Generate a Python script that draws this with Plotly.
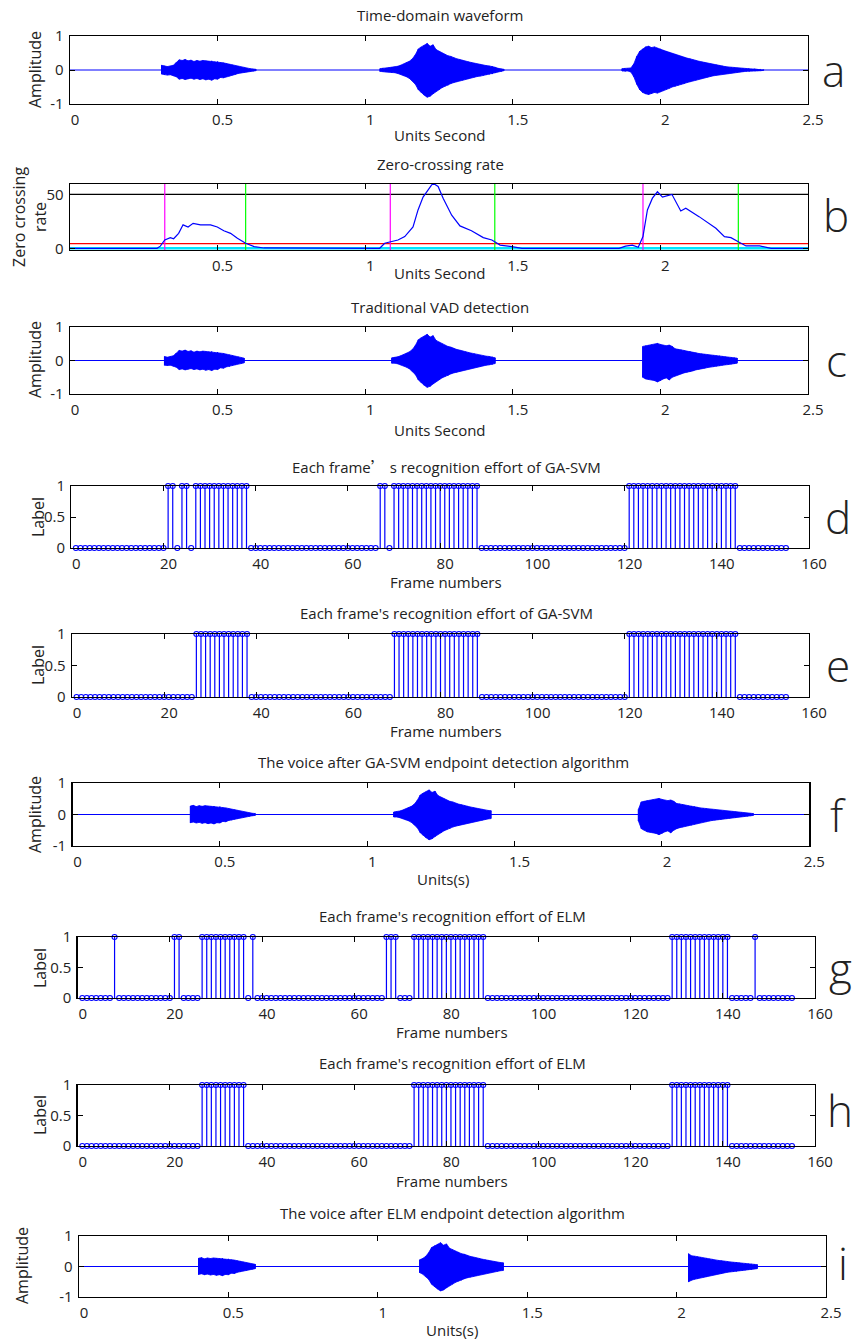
import plotly.graph_objects as go

W, H = 855, 1341
FW, FH = W, H
BLUE = "#0000ff"
FONT = "Open Sans"

# ---------------- data ----------------
# waveform envelope (upper / lower peaks), one value every 0.01 s
env1_start = 0.31
env1_up = [0.14, 0.12, 0.10, 0.12, 0.14, 0.22, 0.30, 0.28, 0.31, 0.27, 0.29, 0.25, 0.28, 0.26, 0.28, 0.27,
           0.26, 0.27, 0.24, 0.25, 0.22, 0.21, 0.19, 0.17, 0.15, 0.12, 0.11, 0.08, 0.07, 0.05, 0.04, 0.03, 0.02]
env1_lo = [-0.12, -0.14, -0.15, -0.14, -0.17, -0.20, -0.27, -0.25, -0.28, -0.26, -0.24, -0.27, -0.25, -0.28, -0.26, -0.29,
           -0.27, -0.30, -0.26, -0.27, -0.22, -0.23, -0.19, -0.18, -0.15, -0.13, -0.10, -0.09, -0.07, -0.06, -0.04, -0.03, -0.02]

env2_start = 1.05
env2_up = [0.04, 0.06, 0.06, 0.07, 0.08, 0.09, 0.11, 0.14, 0.17, 0.22, 0.26, 0.33, 0.45, 0.62, 0.68, 0.72,
           0.78, 0.70, 0.74, 0.60, 0.55, 0.50, 0.46, 0.42, 0.40, 0.36, 0.33, 0.31, 0.28, 0.26, 0.24, 0.22,
           0.20, 0.17, 0.16, 0.14, 0.13, 0.12, 0.11, 0.08, 0.05, 0.03, 0.02]
env2_lo = [-0.04, -0.05, -0.06, -0.06, -0.08, -0.08, -0.10, -0.12, -0.16, -0.20, -0.25, -0.32, -0.42, -0.58, -0.66, -0.74,
           -0.80, -0.77, -0.70, -0.62, -0.58, -0.52, -0.48, -0.45, -0.40, -0.37, -0.35, -0.32, -0.30, -0.27, -0.25, -0.23,
           -0.21, -0.19, -0.18, -0.16, -0.14, -0.13, -0.12, -0.09, -0.06, -0.04, -0.02]

# third word as recorded (panel a)
env3_start = 1.87
env3_up = [0.04, 0.05, 0.04, 0.06, 0.18, 0.40, 0.55, 0.62, 0.68, 0.70, 0.66, 0.68, 0.64, 0.62, 0.58, 0.55,
           0.52, 0.48, 0.46, 0.42, 0.40, 0.38, 0.35, 0.33, 0.30, 0.28, 0.26, 0.24, 0.22, 0.20, 0.18, 0.16,
           0.15, 0.13, 0.12, 0.10, 0.09, 0.08, 0.07, 0.06, 0.05, 0.05, 0.04, 0.04, 0.03, 0.03, 0.02, 0.02, 0.01]
env3_lo = [-0.03, -0.04, -0.03, -0.06, -0.20, -0.42, -0.58, -0.66, -0.70, -0.72, -0.70, -0.66, -0.68, -0.64, -0.60, -0.57,
           -0.54, -0.50, -0.48, -0.45, -0.42, -0.40, -0.37, -0.35, -0.32, -0.30, -0.27, -0.25, -0.23, -0.21, -0.19, -0.17,
           -0.15, -0.14, -0.12, -0.11, -0.10, -0.09, -0.08, -0.07, -0.06, -0.05, -0.04, -0.04, -0.03, -0.03, -0.02, -0.02, -0.01]

# third word as it appears in the detected outputs (panels c, f, i)
env3p_start = 1.91
env3p_up = [0.10, 0.16, 0.40, 0.42, 0.44, 0.45, 0.47, 0.48, 0.51, 0.48, 0.45, 0.44, 0.46, 0.42, 0.35, 0.34,
            0.32, 0.30, 0.28, 0.27, 0.25, 0.23, 0.21, 0.20, 0.19, 0.17, 0.16, 0.15, 0.14, 0.14, 0.12, 0.11,
            0.10, 0.09, 0.085, 0.07, 0.06, 0.05, 0.04, 0.03, 0.03, 0.02]
env3p_lo = [-0.12, -0.20, -0.45, -0.50, -0.55, -0.56, -0.58, -0.60, -0.64, -0.60, -0.55, -0.52, -0.58, -0.50, -0.45, -0.42,
            -0.40, -0.37, -0.35, -0.34, -0.31, -0.28, -0.26, -0.24, -0.23, -0.21, -0.19, -0.18, -0.17, -0.16, -0.14, -0.13,
            -0.12, -0.11, -0.10, -0.08, -0.07, -0.06, -0.05, -0.04, -0.03, -0.02]

# zero-crossing rate curve (panel b)
zcr_t = [0, 0.295, 0.306, 0.321, 0.34, 0.351, 0.368, 0.383, 0.40, 0.417, 0.442, 0.476, 0.499, 0.521, 0.544, 0.567,
         0.595, 0.624, 0.657, 1.049, 1.066, 1.085, 1.111, 1.134, 1.162, 1.179, 1.196, 1.224, 1.23, 1.247, 1.264,
         1.293, 1.321, 1.36, 1.40, 1.429, 1.457, 1.497, 1.531, 1.86, 1.882, 1.905, 1.925, 1.941, 1.956, 1.973, 1.99,
         2.007, 2.039, 2.069, 2.086, 2.131, 2.188, 2.217, 2.239, 2.267, 2.29, 2.336, 2.375, 2.5]
zcr_v = [0, 0, 2, 7.8, 10, 9, 14, 22, 20, 23.4, 22, 22, 20, 16.5, 14, 9.4,
         4.7, 1.6, 0.3, 0, 4.7, 6, 7.8, 11, 20, 36, 48, 59, 61, 58, 47,
         31, 21, 16.5, 10, 7.8, 3, 1.6, 0, 0, 2, 3, 1, 11, 36, 47, 53,
         48, 50.6, 35, 37.5, 29.7, 18.8, 11, 10, 5.6, 2.2, 2.2, 0, 0]
zcr_start_marks = [0.321, 1.085, 1.941]   # magenta
zcr_end_marks = [0.595, 1.439, 2.264]     # green
zcr_high_thr = 50.5
zcr_low_thr = 4.4
zcr_base = 0

# detected speech segments (seconds)
vad_segments = [(0.32, 0.595), (1.085, 1.44), (1.94, 2.265)]
gasvm_segments = [(0.396, 0.624), (1.082, 1.429), (1.918, 2.319)]
elm_segments = [(0.393, 0.593), (1.134, 1.425), (2.032, 2.273)]

# frame labels (frames labelled 1 = speech)
n_frames = 155
gasvm_raw_ones = [21, 22, 24, 25, 27, 28, 29, 30, 31, 32, 33, 34, 35, 36, 37, 38,
                  67, 68, 70, 71, 72, 73, 74, 75, 76, 77, 78, 79, 80, 81, 82, 83, 84, 85, 86, 87, 88,
                  121, 122, 123, 124, 125, 126, 127, 128, 129, 130, 131, 132, 133, 134, 135, 136, 137,
                  138, 139, 140, 141, 142, 143, 144]
gasvm_ones = [27, 28, 29, 30, 31, 32, 33, 34, 35, 36, 37, 38,
              70, 71, 72, 73, 74, 75, 76, 77, 78, 79, 80, 81, 82, 83, 84, 85, 86, 87, 88,
              121, 122, 123, 124, 125, 126, 127, 128, 129, 130, 131, 132, 133, 134, 135, 136, 137,
              138, 139, 140, 141, 142, 143, 144]
elm_raw_ones = [8, 21, 22, 27, 28, 29, 30, 31, 32, 33, 34, 35, 36, 38,
                67, 68, 69, 73, 74, 75, 76, 77, 78, 79, 80, 81, 82, 83, 84, 85, 86, 87, 88,
                129, 130, 131, 132, 133, 134, 135, 136, 137, 138, 139, 140, 141, 147]
elm_ones = [27, 28, 29, 30, 31, 32, 33, 34, 35, 36,
            73, 74, 75, 76, 77, 78, 79, 80, 81, 82, 83, 84, 85, 86, 87, 88,
            129, 130, 131, 132, 133, 134, 135, 136, 137, 138, 139, 140, 141]

# ---------------- helpers ----------------
STEP = 0.01
RAW = ((env1_start, env1_up, env1_lo), (env2_start, env2_up, env2_lo), (env3_start, env3_up, env3_lo))
DET = ((env1_start, env1_up, env1_lo), (env2_start, env2_up, env2_lo), (env3p_start, env3p_up, env3p_lo))


def runs(bursts, segments):
    out = []
    for start, up, lo in bursts:
        cur = []
        for k in range(len(up)):
            t = round(start + k * STEP, 4)
            keep = segments is None or any(a <= t <= b for a, b in segments)
            if keep:
                cur.append((t, up[k], lo[k]))
            elif cur:
                out.append(cur); cur = []
        if cur:
            out.append(cur)
    return out


def wave_traces(bursts, segments, xa, ya):
    tr = [go.Scatter(x=[0, 2.5], y=[0, 0], mode="lines", line=dict(color=BLUE, width=1),
                     xaxis=xa, yaxis=ya, showlegend=False, hoverinfo="skip")]
    px, py, zx, zy = [], [], [], []
    for run in runs(bursts, segments):
        ts = [r[0] for r in run]
        ups = [r[1] for r in run]
        los = [r[2] for r in run]
        px += ts + ts[::-1] + [ts[0], None]
        py += ups + los[::-1] + [ups[0], None]
        for t, u, l in run:
            zx += [t, t]
            zy += [u, l]
        zx.append(None); zy.append(None)
    tr.append(go.Scatter(x=px, y=py, mode="lines", fill="toself", fillcolor=BLUE,
                         line=dict(color=BLUE, width=0.8), xaxis=xa, yaxis=ya,
                         showlegend=False, hoverinfo="skip"))
    tr.append(go.Scatter(x=zx, y=zy, mode="lines", line=dict(color=BLUE, width=1),
                         xaxis=xa, yaxis=ya, showlegend=False, hoverinfo="skip"))
    return tr


def stems(ones):
    frames = list(range(1, n_frames + 1))
    vals = [1 if f in ones else 0 for f in frames]
    lx, ly = [], []
    for f, v in zip(frames, vals):
        if v:
            lx += [f, f, None]
            ly += [0, 1, None]
    return frames, vals, lx, ly


def PX(x):
    return x / FW


def PY(y):
    return 1 - y / FH


# panel boxes in window pixels: x0, x1, ytop, ybottom
boxes = {
    1: (70, 808, 36, 104),
    2: (70, 808, 184, 250),
    3: (70, 808, 327, 394),
    4: (71.3, 809, 486, 548),
    5: (72, 809, 634, 697),
    6: (72.5, 809.3, 783, 846),
    7: (77.7, 815, 937, 998),
    8: (77.7, 815, 1085, 1146),
    9: (79, 826, 1236, 1297),
}

fig = go.Figure()


def ax(i):
    return ("x" if i == 1 else f"x{i}"), ("y" if i == 1 else f"y{i}")


for i, bursts, seg in ((1, RAW, None), (3, DET, vad_segments), (6, DET, gasvm_segments), (9, DET, elm_segments)):
    xa, ya = ax(i)
    for tr in wave_traces(bursts, seg, xa, ya):
        fig.add_trace(tr)

xa, ya = ax(2)
fig.add_trace(go.Scatter(x=[0, 2.5], y=[zcr_base, zcr_base], mode="lines", line=dict(color="#00e5ff", width=2.5),
                         xaxis=xa, yaxis=ya, showlegend=False))
fig.add_trace(go.Scatter(x=[0, 2.5], y=[zcr_low_thr, zcr_low_thr], mode="lines", line=dict(color="#ff0000", width=1.2),
                         xaxis=xa, yaxis=ya, showlegend=False))
fig.add_trace(go.Scatter(x=[0, 2.5], y=[zcr_high_thr, zcr_high_thr], mode="lines", line=dict(color="#000000", width=1.2),
                         xaxis=xa, yaxis=ya, showlegend=False))
mx, my = [], []
for t in zcr_start_marks:
    mx += [t, t, None]; my += [-5, 70, None]
fig.add_trace(go.Scatter(x=mx, y=my, mode="lines", line=dict(color="#ff00ff", width=1.2),
                         xaxis=xa, yaxis=ya, showlegend=False))
gx, gy = [], []
for t in zcr_end_marks:
    gx += [t, t, None]; gy += [-5, 70, None]
fig.add_trace(go.Scatter(x=gx, y=gy, mode="lines", line=dict(color="#00ff00", width=1.2),
                         xaxis=xa, yaxis=ya, showlegend=False))
fig.add_trace(go.Scatter(x=zcr_t, y=zcr_v, mode="lines", line=dict(color=BLUE, width=1.2),
                         xaxis=xa, yaxis=ya, showlegend=False))

for i, ones in ((4, gasvm_raw_ones), (5, gasvm_ones), (7, elm_raw_ones), (8, elm_ones)):
    frames, vals, lx, ly = stems(ones)
    xa, ya = ax(i)
    fig.add_trace(go.Scatter(x=lx, y=ly, mode="lines", line=dict(color=BLUE, width=1.2),
                             xaxis=xa, yaxis=ya, showlegend=False))
    fig.add_trace(go.Scatter(x=frames, y=vals, mode="markers", cliponaxis=False,
                             marker=dict(symbol="circle-open", size=5, color=BLUE, line=dict(width=1.1)),
                             xaxis=xa, yaxis=ya, showlegend=False))

common = dict(showline=True, linecolor="black", linewidth=1.3, mirror="ticks", ticks="inside",
              ticklen=5, tickcolor="black", tickwidth=1, showgrid=False, zeroline=False,
              automargin=False, tickfont=dict(family=FONT, size=15, color="#222"))

layout = dict(width=FW, height=FH, margin=dict(l=0, r=0, t=0, b=0, pad=0, autoexpand=False),
              paper_bgcolor="white", plot_bgcolor="white", showlegend=False, template="none")

for i, (x0, x1, yt, yb) in boxes.items():
    xname = "xaxis" if i == 1 else f"xaxis{i}"
    yname = "yaxis" if i == 1 else f"yaxis{i}"
    xa, ya = ax(i)
    xd = [PX(x0), PX(x1)]
    yd = [PY(yb), PY(yt)]
    if i in (1, 3, 6, 9):
        xr, xt, xtt = [0, 2.5], [0, 0.5, 1, 1.5, 2, 2.5], ["0", "0.5", "1", "1.5", "2", "2.5"]
        yr, yt_, ytt = [-1, 1], [-1, 0, 1], ["-1", "0", "1"]
    elif i == 2:
        xr, xt, xtt = [0, 2.5], [0.5, 1, 1.5, 2], ["0.5", "1", "1.5", "2"]
        yr, yt_, ytt = [-1.6, 60.3], [0, 50], ["0", "50"]
    else:
        xr, xt, xtt = [0, 160], [0, 20, 40, 60, 80, 100, 120, 140, 160], \
            ["0", "20", "40", "60", "80", "100", "120", "140", "160"]
        yr, yt_, ytt = [0, 1], [0, 0.5, 1], ["0", "0.5", "1"]
    layout[xname] = dict(common, domain=xd, range=xr, tickvals=xt, ticktext=xtt, anchor=ya,
                         ticklabelshift=5, ticklabelstandoff=2)
    layout[yname] = dict(common, domain=yd, range=yr, tickvals=yt_, ticktext=ytt, anchor=xa,
                         ticklabelstandoff=2)

fig.update_layout(**layout)

ann = []


def text(x, y, s, size=15, angle=0, weight=None):
    f = dict(family=FONT, size=size, color="#222")
    if weight:
        f["weight"] = weight
    ann.append(dict(x=PX(x), y=PY(y), xref="paper", yref="paper", text=s, showarrow=False,
                    xanchor="center", yanchor="middle", textangle=angle, font=f))


titles = [
    (440, 15, "Time-domain waveform"),
    (440, 164, "Zero-crossing rate"),
    (440, 307, "Traditional VAD detection"),
    (446, 466, "Each frame<span style='font-family:Noto Sans CJK SC'>’</span> s recognition effort of GA-SVM"),
    (446, 613, "Each frame's recognition effort of GA-SVM"),
    (443, 762, "The voice after GA-SVM endpoint detection algorithm"),
    (452, 916, "Each frame's recognition effort of ELM"),
    (452, 1063, "Each frame's recognition effort of ELM"),
    (452, 1213, "The voice after ELM endpoint detection algorithm"),
]
for x, y, s in titles:
    text(x, y, s)

xlabels = [
    (440, 135, "Units Second"), (440, 273, "Units Second"), (440, 430, "Units Second"),
    (446, 582, "Frame numbers"), (446, 731, "Frame numbers"), (443, 879, "Units(s)"),
    (452, 1032, "Frame numbers"), (452, 1181, "Frame numbers"), (452, 1330, "Units(s)"),
]
for x, y, s in xlabels:
    text(x, y, s)

ylabels = [(35, 70, "Amplitude"), (35, 360, "Amplitude"), (38, 517, "Label"), (38, 665, "Label"),
           (35, 815, "Amplitude"), (40, 968, "Label"), (40, 1115, "Label"), (22, 1266, "Amplitude")]
for x, y, s in ylabels:
    text(x, y, s, size=16, angle=-90)
text(30, 217, "Zero crossing<br>rate", size=16, angle=-90)

letters = [(833, 70, "a"), (836, 215, "b"), (836, 360, "c"), (838, 517, "d"), (838, 665, "e"),
           (838, 815, "f"), (840, 968, "g"), (840, 1110, "h"), (843, 1263, "i")]
for x, y, s in letters:
    text(x, y, s, size=44, weight=300)

fig.update_layout(annotations=ann)
fig.write_html("out.html", config={"displayModeBar": False, "staticPlot": True},
               post_script="document.body.style.margin='0';document.body.style.overflow='hidden';")
